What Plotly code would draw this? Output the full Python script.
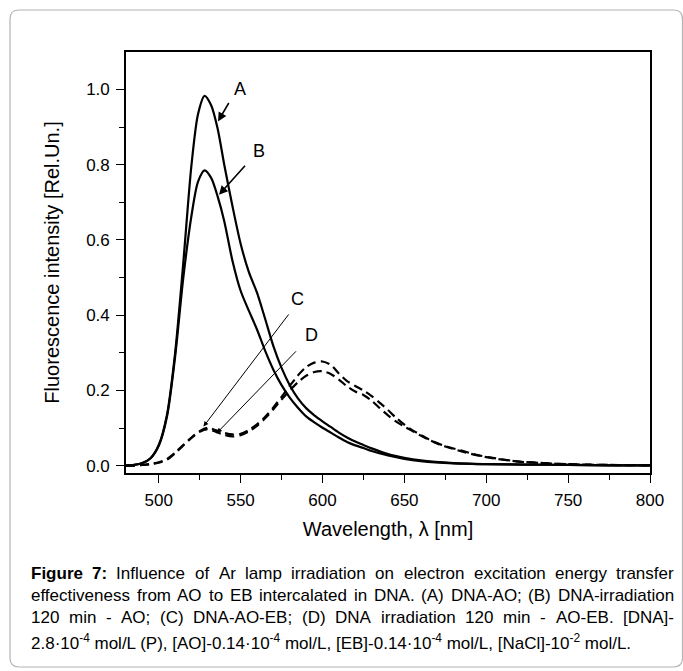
import plotly.graph_objects as go

# ---------------- data ----------------
wl_ab = [480, 485, 490, 495, 500, 505, 510, 515, 520, 524, 528, 532, 536, 540, 545,
         550, 555, 560, 565, 570, 575, 580, 585, 590, 595, 600, 605, 610, 615, 620,
         625, 630, 640, 650, 660, 680, 700, 725, 750, 775, 800]
curve_a = [0.000, 0.002, 0.007, 0.020, 0.055, 0.135, 0.300, 0.540, 0.800, 0.935, 0.983,
           0.958, 0.895, 0.800, 0.690, 0.590, 0.515, 0.460, 0.390, 0.318, 0.260, 0.214,
           0.179, 0.153, 0.134, 0.118, 0.103, 0.088, 0.075, 0.064, 0.055, 0.046, 0.031,
           0.021, 0.014, 0.007, 0.004, 0.003, 0.002, 0.001, 0.001]
curve_b = [0.000, 0.002, 0.007, 0.020, 0.053, 0.130, 0.290, 0.500, 0.665, 0.755, 0.785,
           0.765, 0.715, 0.650, 0.545, 0.465, 0.412, 0.362, 0.305, 0.255, 0.214, 0.181,
           0.154, 0.131, 0.115, 0.101, 0.088, 0.075, 0.063, 0.054, 0.047, 0.039, 0.027,
           0.018, 0.012, 0.006, 0.004, 0.003, 0.002, 0.001, 0.001]

wl_cd = [480, 485, 490, 495, 500, 505, 510, 515, 520, 525, 530, 535, 540, 545, 550,
         555, 560, 565, 570, 575, 580, 585, 590, 595, 600, 605, 610, 615, 620, 625,
         630, 635, 640, 645, 650, 655, 660, 665, 670, 675, 685, 695, 705, 720, 735,
         750, 775, 800]
curve_c = [0.000, 0.000, 0.002, 0.005, 0.009, 0.018, 0.035, 0.055, 0.075, 0.092, 0.101,
           0.094, 0.087, 0.083, 0.085, 0.095, 0.110, 0.130, 0.155, 0.183, 0.212, 0.240,
           0.262, 0.274, 0.277, 0.268, 0.245, 0.225, 0.212, 0.200, 0.185, 0.167, 0.148,
           0.127, 0.109, 0.094, 0.082, 0.070, 0.060, 0.052, 0.040, 0.028, 0.020, 0.011,
           0.007, 0.004, 0.002, 0.001]
curve_d = [0.000, 0.000, 0.002, 0.004, 0.008, 0.016, 0.033, 0.054, 0.074, 0.090, 0.097,
           0.090, 0.082, 0.078, 0.081, 0.091, 0.106, 0.126, 0.150, 0.176, 0.200, 0.222,
           0.239, 0.249, 0.251, 0.244, 0.229, 0.211, 0.197, 0.188, 0.173, 0.153, 0.134,
           0.117, 0.104, 0.092, 0.080, 0.069, 0.059, 0.051, 0.038, 0.027, 0.019, 0.011,
           0.007, 0.004, 0.002, 0.001]

x_ticks = [500, 550, 600, 650, 700, 750, 800]
y_ticks = [0.0, 0.2, 0.4, 0.6, 0.8, 1.0]
y_tick_labels = ["0.0", "0.2", "0.4", "0.6", "0.8", "1.0"]

labels = ["A", "B", "C", "D"]
label_x = [549.5, 561.0, 585.0, 593.0]
label_y = [1.000, 0.837, 0.443, 0.348]
arrow_tail_x = [543.3, 553.5, 580.0, 584.7]
arrow_tail_y = [0.968, 0.801, 0.406, 0.308]
arrow_tip_x = [536.2, 536.8, 527.3, 535.5]
arrow_tip_y = [0.915, 0.720, 0.104, 0.087]

x_title = "Wavelength, λ [nm]"
y_title = "Fluorescence intensity [Rel.Un.]"

caption_lines = [
    "<b>Figure</b> <b>7:</b> Influence of Ar lamp irradiation on electron excitation energy transfer",
    "effectiveness from AO to EB intercalated in DNA. (A) DNA-AO; (B) DNA-irradiation",
    "120 min - AO; (C) DNA-AO-EB; (D) DNA irradiation 120 min - AO-EB. [DNA]-",
]
caption_last = ("2.8·10<sup>-4</sup> mol/L (P), [AO]-0.14·10<sup>-4</sup> mol/L, "
                "[EB]-0.14·10<sup>-4</sup> mol/L, [NaCl]-10<sup>-2</sup> mol/L.")

# ---------------- layout geometry ----------------
W, H = 683, 671
ML, MR, MT, MB = 126, 33, 52, 198
PW, PH = W - ML - MR, H - MT - MB
FONT = "Liberation Sans, Arial, Helvetica, sans-serif"


def px_x(px):
    return (px - ML) / PW


def px_y(py):
    return (H - MB - py) / PH


fig = go.Figure()
for xs, ys, dash in [(wl_ab, curve_a, "solid"), (wl_ab, curve_b, "solid"),
                     (wl_cd, curve_c, "9px,5px"), (wl_cd, curve_d, "9px,5px")]:
    fig.add_trace(go.Scatter(x=xs, y=ys, mode="lines",
                             line=dict(color="black", width=2.2, dash=dash,
                                       shape="spline", smoothing=0.8),
                             showlegend=False, hoverinfo="skip"))

annotations = []
for i, lab in enumerate(labels):
    annotations.append(dict(x=label_x[i], y=label_y[i], xref="x", yref="y", text=lab,
                            showarrow=False, font=dict(family=FONT, size=18, color="black")))
    big = i < 2
    annotations.append(dict(x=arrow_tip_x[i], y=arrow_tip_y[i], xref="x", yref="y",
                            ax=arrow_tail_x[i], ay=arrow_tail_y[i], axref="x", ayref="y",
                            text="", showarrow=True, arrowhead=2,
                            arrowsize=1.1 if big else 1.0,
                            arrowwidth=1.6 if big else 1.0, arrowcolor="black"))

# ---- justified caption (Arial / Liberation Sans metrics) ----
REG = {' ': 278, '!': 278, '(': 333, ')': 333, '-': 333, '.': 278, '/': 278, ':': 278,
       ';': 278, '[': 278, ']': 278, '·': 278, ',': 278}
for d in "0123456789":
    REG[d] = 556
REG.update(dict(zip("ABCDEFGHIJKLMNOPQRSTUVWXYZ",
                    [667, 667, 722, 722, 667, 611, 778, 722, 278, 500, 667, 556, 833, 722,
                     778, 667, 778, 722, 667, 611, 722, 667, 944, 667, 667, 611])))
REG.update(dict(zip("abcdefghijklmnopqrstuvwxyz",
                    [556, 556, 500, 556, 556, 278, 556, 556, 222, 222, 500, 222, 833, 556,
                     556, 556, 556, 333, 500, 278, 556, 500, 722, 500, 500, 500])))
BOLD = dict(REG)
BOLD.update({'F': 611, 'i': 278, 'g': 611, 'u': 611, 'r': 389, 'e': 556, '7': 556, ':': 333})


def word_width(word, size):
    bold = word.startswith("<b>")
    plain = word.replace("<b>", "").replace("</b>", "")
    table = BOLD if bold else REG
    return sum(table.get(ch, 556) for ch in plain) / 1000.0 * size


CAP_SIZE = 17
CAP_X0, CAP_X1 = 29.5, 673.0
CAP_Y = [573, 595, 617, 640]
for li, line in enumerate(caption_lines):
    words = line.split(" ")
    widths = [word_width(w, CAP_SIZE) for w in words]
    gap = (CAP_X1 - CAP_X0 - sum(widths)) / (len(words) - 1)
    xpos = CAP_X0
    for w, wd in zip(words, widths):
        annotations.append(dict(x=px_x(xpos - 1), y=px_y(CAP_Y[li]), xref="paper", yref="paper",
                                xanchor="left", yanchor="middle", text=w, showarrow=False,
                                font=dict(family=FONT, size=CAP_SIZE, color="black")))
        xpos += wd + gap
annotations.append(dict(x=px_x(CAP_X0 - 1), y=px_y(CAP_Y[3]), xref="paper", yref="paper",
                        xanchor="left", yanchor="middle", text=caption_last, showarrow=False,
                        font=dict(family=FONT, size=CAP_SIZE, color="black"), yshift=-2))

# ---- rounded panel border ----
x0, x1, y0, y1, r = 10, 682.5, 10, 667, 9
pts = lambda a, b: f"{px_x(a):.5f},{px_y(b):.5f}"
panel_path = (f"M {pts(x0 + r, y0)} L {pts(x1 - r, y0)} Q {pts(x1, y0)} {pts(x1, y0 + r)} "
              f"L {pts(x1, y1 - r)} Q {pts(x1, y1)} {pts(x1 - r, y1)} "
              f"L {pts(x0 + r, y1)} Q {pts(x0, y1)} {pts(x0, y1 - r)} "
              f"L {pts(x0, y0 + r)} Q {pts(x0, y0)} {pts(x0 + r, y0)} Z")

fig.update_layout(
    width=W, height=H,
    margin=dict(l=ML, r=MR, t=MT, b=MB, autoexpand=False),
    paper_bgcolor="white", plot_bgcolor="white",
    font=dict(family=FONT, color="black"),
    annotations=annotations,
    shapes=[dict(type="path", path=panel_path, xref="paper", yref="paper",
                 line=dict(color="#b4b4b4", width=1.2), layer="below")],
    xaxis=dict(range=[480, 800], tickvals=x_ticks, ticks="outside", ticklen=8, tickwidth=1.3,
               tickcolor="black", showline=True, mirror=True, linecolor="black", linewidth=1.6,
               showgrid=False, zeroline=False, tickfont=dict(family=FONT, size=17),
               ticklabelstandoff=3,
               minor=dict(dtick=25, tick0=500, ticks="outside", ticklen=5, tickwidth=1.3,
                          tickcolor="black", showgrid=False),
               title=dict(text=x_title, font=dict(family=FONT, size=20), standoff=13)),
    yaxis=dict(range=[-0.0194, 1.0995], tickvals=y_ticks, ticktext=y_tick_labels,
               ticks="outside", ticklen=8, tickwidth=1.3, tickcolor="black", showline=True,
               mirror=True, linecolor="black", linewidth=1.6, showgrid=False, zeroline=False,
               tickfont=dict(family=FONT, size=17), ticklabelstandoff=3,
               minor=dict(dtick=0.1, tick0=0, ticks="outside", ticklen=5, tickwidth=1.3,
                          tickcolor="black", showgrid=False),
               title=dict(text=y_title, font=dict(family=FONT, size=20), standoff=21)),
)

fig.write_html("out.html", config={"displayModeBar": False},
               post_script="document.body.style.margin='0';document.body.style.overflow='hidden';")
